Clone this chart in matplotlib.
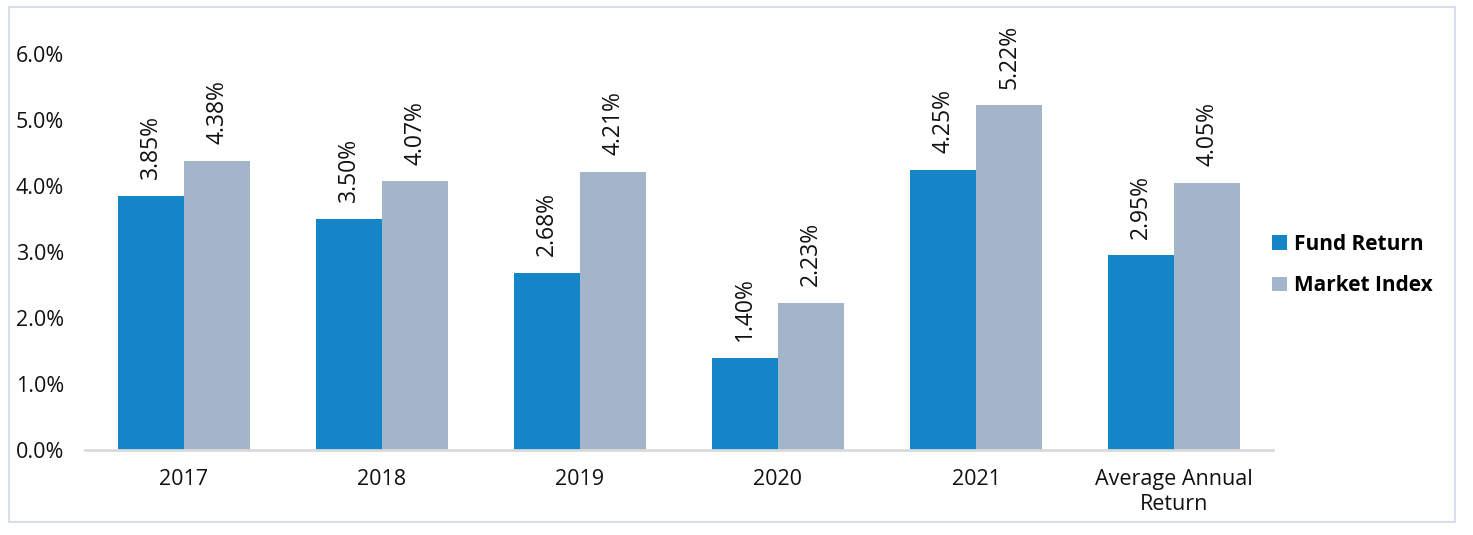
import matplotlib.pyplot as plt
from matplotlib.patches import Rectangle
import numpy as np

categories = ["2017", "2018", "2019", "2020", "2021", "Average Annual\nReturn"]
fund_return = [3.85, 3.50, 2.68, 1.40, 4.25, 2.95]
market_index = [4.38, 4.07, 4.21, 2.23, 5.22, 4.05]
yticks = [0, 1, 2, 3, 4, 5, 6]

fund_color = "#1485C7"
market_color = "#A3B5C9"

plt.rcParams["font.family"] = ["Open Sans", "DejaVu Sans"]

fig = plt.figure(figsize=(14.73, 5.35), dpi=100)
W, H = 1473, 535
ax = fig.add_axes([85 / W, 1 - 450 / H, (1273 - 85) / W, (450 - 54) / H])

x = np.arange(len(categories))
w = 1 / 3
b1 = ax.bar(x - w / 2, fund_return, w, color=fund_color, label="Fund Return")
b2 = ax.bar(x + w / 2, market_index, w, color=market_color, label="Market Index")

for bars, vals in [(b1, fund_return), (b2, market_index)]:
    for rect, v in zip(bars, vals):
        ax.annotate(f"{v:.2f}%", (rect.get_x() + rect.get_width() / 2, v),
                    xytext=(0, 12), textcoords="offset points",
                    rotation=90, ha="center", va="bottom", fontsize=16.5, color="#111111")

ax.set_xlim(-0.5, 5.5)
ax.set_ylim(0, 6)
ax.set_yticks(yticks)
ax.set_yticklabels([f"{t:.1f}%" for t in yticks], fontsize=15.5)
ax.set_xticks(x)
ax.set_xticklabels(categories, fontsize=15.5, linespacing=1.25)
ax.tick_params(axis="both", length=0, colors="#111111")
ax.tick_params(axis="y", pad=15)
ax.tick_params(axis="x", pad=14)
for s in ["top", "right", "left"]:
    ax.spines[s].set_visible(False)
ax.spines["bottom"].set_color("#D9D9D9")
ax.spines["bottom"].set_linewidth(2)

leg = ax.legend(loc="center left", bbox_to_anchor=(1272 / W, 1 - 265 / H),
                bbox_transform=fig.transFigure, frameon=False, borderpad=0,
                borderaxespad=0, handlelength=0.7, handleheight=0.7,
                handletextpad=0.35, labelspacing=1.0,
                prop={"weight": "bold", "size": 15})

fig.patches.append(Rectangle((9 / W, 1 - 522 / H), (1455 - 9) / W, (522 - 7) / H,
                             transform=fig.transFigure, fill=False,
                             edgecolor="#D6E0EC", linewidth=1.5))

fig.savefig("out.png", dpi=100)
